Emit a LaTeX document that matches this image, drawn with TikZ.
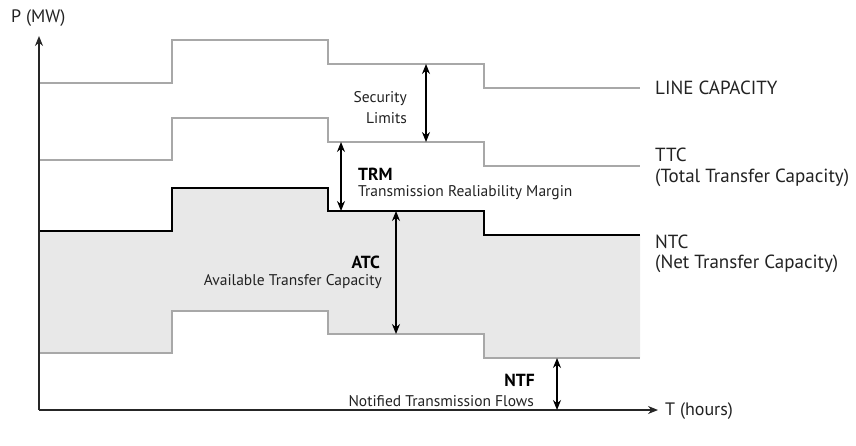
\documentclass[tikz,border=0pt]{standalone}
\usepackage{fontspec}
\setmainfont{PT Sans}
\usetikzlibrary{arrows.meta}
\definecolor{linegray}{HTML}{A8A8A8}
\definecolor{fillgray}{HTML}{E8E8E8}
\definecolor{txt}{HTML}{222222}
\begin{document}
\begin{tikzpicture}[x=1pt,y=-1pt,
  capline/.style={draw=linegray, line width=1.2pt},
  ntcline/.style={draw=black, line width=2.2pt},
  axisline/.style={draw=black!85, line width=1.2pt, -{Stealth[length=10pt,width=8pt]}},
  dimarrow/.style={draw=black, line width=1.3pt, {Stealth[length=10pt,width=8pt]}-{Stealth[length=10pt,width=8pt]}},
  biglbl/.style={font=\fontsize{19}{22}\selectfont, text=txt, inner sep=0pt},
  axlbl/.style={font=\fontsize{18}{21}\selectfont, text=txt, inner sep=0pt},
  smalllbl/.style={font=\fontsize{15.5}{18}\selectfont, text=txt, inner sep=0pt},
  boldlbl/.style={font=\fontsize{17.5}{20}\selectfont\bfseries, text=black, inner sep=0pt}]
\useasboundingbox (0,0) rectangle (856,445);
% shaded ATC area
\fill[fillgray] (39,231) -| (172,188) -| (328,211) -| (484,235) -- (640,235)
  -- (640,358) -| (484,334) -| (328,311) -| (172,353) -- (39,353) -- cycle;
% capacity lines
\draw[capline] (39,83) -| (172,40) -| (328,64) -| (484,88) -- (640,88);
\draw[capline] (39,160) -| (172,118) -| (328,142) -| (484,166) -- (640,166);
\draw[capline] (39,353) -| (172,311) -| (328,334) -| (484,358) -- (640,358);
\draw[ntcline] (39,231) -| (172,188) -| (328,211) -| (484,235) -- (640,235);
% axes
\coordinate (O) at (39,410);
\coordinate (ytip) at (39,36);
\coordinate (xtip) at (658,410);
\draw[axisline] (O) -- (ytip);
\draw[axisline] (O) -- (xtip);
\node[axlbl, anchor=west] (plbl) at (11,18) {P (MW)};
\node[axlbl, anchor=west] (tlbl) at (665,411) {T (hours)};
% dimension arrows
\coordinate (s1) at (426,64);
\coordinate (s2) at (426,142);
\coordinate (r1) at (341,142);
\coordinate (r2) at (341,211);
\coordinate (a1) at (396,211);
\coordinate (a2) at (396,334);
\coordinate (n1) at (557,358);
\coordinate (n2) at (557,410);
\draw[dimarrow] (s1) -- (s2);
\draw[dimarrow] (r1) -- (r2);
\draw[dimarrow] (a1) -- (a2);
\draw[dimarrow] (n1) -- (n2);
% labels
\node[smalllbl, anchor=east] (sec1) at (407,99) {Security};
\node[smalllbl, anchor=east] (sec2) at (407,118) {Limits};
\node[boldlbl, anchor=west] (trm) at (358,174) {TRM};
\node[smalllbl, anchor=west] (trm2) at (358,193) {Transmission Realiability Margin};
\node[boldlbl, anchor=east] (atc) at (380,262) {ATC};
\node[smalllbl, anchor=east] (atc2) at (382,282) {Available Transfer Capacity};
\node[boldlbl, anchor=east] (ntf) at (535,380) {NTF};
\node[smalllbl, anchor=east] (ntf2) at (534,401) {Notified Transmission Flows};
\node[biglbl, anchor=west] (lc) at (655,88) {LINE CAPACITY};
\node[biglbl, anchor=west] (ttc) at (655,155) {TTC};
\node[biglbl, anchor=west] (ttc2) at (655,178) {(Total Transfer Capacity)};
\node[biglbl, anchor=west] (ntc) at (655,242) {NTC};
\node[biglbl, anchor=west] (ntc2) at (655,264) {(Net Transfer Capacity)};
\end{tikzpicture}
\end{document}
